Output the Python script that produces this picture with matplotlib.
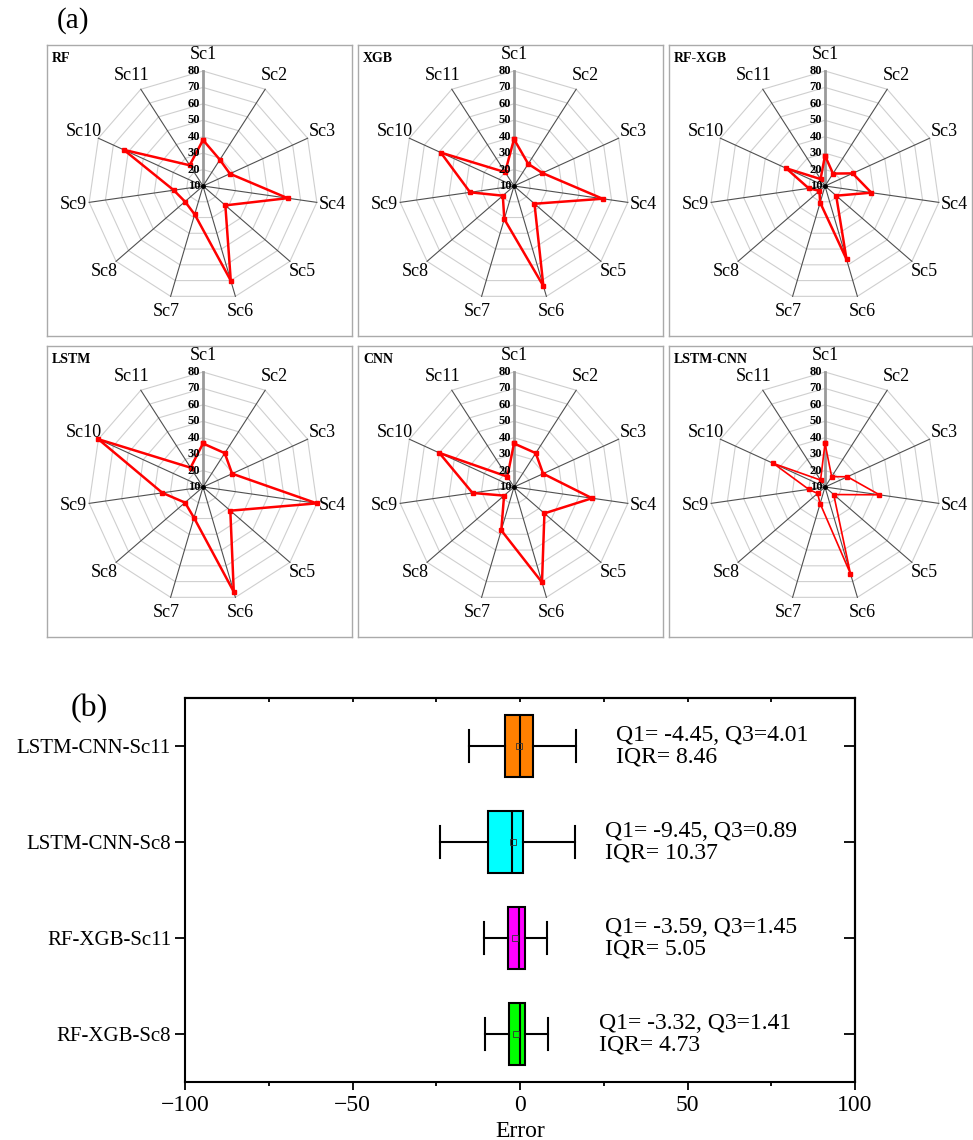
import numpy as np
import matplotlib
matplotlib.use('Agg')
import matplotlib.pyplot as plt
from matplotlib.transforms import offset_copy

plt.rcParams['font.family'] = ['Liberation Serif', 'DejaVu Serif']

W, H = 973, 1140

# ---- data: radar panels (a) ----
scenarios = ['Sc1', 'Sc2', 'Sc3', 'Sc4', 'Sc5', 'Sc6', 'Sc7', 'Sc8', 'Sc9', 'Sc10', 'Sc11']
levels = [10, 20, 30, 40, 50, 60, 70, 80]
models = ['RF', 'XGB', 'RF-XGB', 'LSTM', 'CNN', 'LSTM-CNN']
rf = [38, 29, 28, 62, 28, 70, 28, 24.5, 28, 63, 25]
xgb = [38.5, 26, 29, 64.5, 26.5, 73.5, 31, 19, 37, 59, 20]
rf_xgb = [28.5, 19, 28.5, 38.5, 19, 56.5, 20.5, 14.5, 20, 36, 15]
lstm = [36.5, 34.5, 29.5, 80, 32, 76.5, 29.5, 24.5, 35, 80, 24]
cnn = [36.5, 34.5, 29.5, 58, 34.5, 70.5, 37.5, 18, 35.5, 60, 17.5]
lstm_cnn = [36.5, 17.5, 25, 43.5, 17, 65, 20.5, 16, 20, 44.5, 15]
series = [rf, xgb, rf_xgb, lstm, cnn, lstm_cnn]

# ---- data: box plot (b), bottom to top ----
box_labels = ['RF-XGB-Sc8', 'RF-XGB-Sc11', 'LSTM-CNN-Sc8', 'LSTM-CNN-Sc11']
q1 = [-3.32, -3.59, -9.45, -4.45]
q3 = [1.41, 1.45, 0.89, 4.01]
iqr = [4.73, 5.05, 10.37, 8.46]
med = [0.0, -0.2, -2.4, 0.0]
mean = [-1.3, -1.5, -2.2, -0.2]
whislo = [-10.4, -10.7, -23.8, -15.2]
whishi = [8.5, 8.1, 16.4, 16.6]
box_colors = ['#00ff00', '#ff00ff', '#00ffff', '#ff8000']


def fx(px):
    return px / W


def fy(py):
    return 1 - py / H


fig = plt.figure(figsize=(W / 100, H / 100), dpi=100)

fig.text(fx(73), fy(21), '(a)', fontsize=21, ha='center', va='center')

theta = np.arange(len(scenarios)) * 2 * np.pi / len(scenarios)
theta_c = np.append(theta, theta[0])

panel_left = [47, 358, 669]
panel_top = [45, 346]
for k, (name, vals) in enumerate(zip(models, series)):
    r, c = divmod(k, 3)
    left, top = panel_left[c], panel_top[r]
    pw = 305 if c < 2 else 303
    ph = 291
    bg = fig.add_axes([fx(left), fy(top + ph), pw / W, ph / H])
    bg.set_xticks([])
    bg.set_yticks([])
    for s in bg.spines.values():
        s.set_color('#aaaaaa')
        s.set_linewidth(1.0)
    bg.text(5 / pw, 1 - 14 / ph, name, transform=bg.transAxes, fontsize=10,
            fontweight='bold', ha='left', va='center')

    cx, cy, R = left + 156, top + 141, 115
    ax = fig.add_axes([fx(cx - R), fy(cy + R), 2 * R / W, 2 * R / H], projection='polar')
    ax.set_theta_zero_location('N')
    ax.set_theta_direction(-1)
    ax.set_ylim(10, 80)
    ax.set_axis_off()

    for lv in levels[1:]:
        ax.plot(theta_c, [lv] * len(theta_c), color='#cfcfcf', lw=0.8, clip_on=False, zorder=1)
    for i, t in enumerate(theta):
        if i == 0:
            ax.plot([t, t], [10, 80], color='#9a9a9a', lw=2.0, clip_on=False, zorder=2)
        else:
            ax.plot([t, t], [10, 80], color='#505050', lw=0.8, clip_on=False, zorder=2)
        ax.text(t, 89.8, scenarios[i], fontsize=13, ha='center', va='center')
    ax.plot([0], [10], 'o', color='k', ms=2.5, zorder=5)

    trans = offset_copy(ax.transData, fig=fig, x=-2, y=0, units='points')
    for lv in levels:
        ax.text(0, lv, str(lv), transform=trans, fontsize=9, fontweight='bold',
                ha='right', va='center', zorder=6)

    lw = 1.2 if name == 'LSTM-CNN' else 1.8
    ax.plot(theta_c, list(vals) + [vals[0]], color='#ff0000', lw=lw, marker='s',
            ms=3.5, clip_on=False, zorder=4)

# ---- box plot ----
axb = fig.add_axes([fx(185), fy(1082), 670 / W, 384 / H])
stats = []
for lab, a, b, m, mn, lo, hi in zip(box_labels, q1, q3, med, mean, whislo, whishi):
    stats.append(dict(label=lab, q1=a, q3=b, med=m, mean=mn, whislo=lo, whishi=hi, fliers=[]))
positions = np.arange(1, len(box_labels) + 1)
bp = axb.bxp(stats, positions=positions, widths=0.65, orientation='horizontal',
             patch_artist=True, showmeans=True, capwidths=0.33,
             boxprops=dict(edgecolor='k', linewidth=1.5),
             medianprops=dict(color='k', linewidth=1.5),
             whiskerprops=dict(color='k', linewidth=1.5),
             capprops=dict(color='k', linewidth=1.5),
             meanprops=dict(marker='s', markerfacecolor='none', markeredgecolor='#333333',
                            markersize=4, markeredgewidth=0.6))
for patch, col in zip(bp['boxes'], box_colors):
    patch.set_facecolor(col)

text_x = [23.6, 25.5, 25.5, 28.7]
for p, a, b, q, tx in zip(positions, q1, q3, iqr, text_x):
    axb.text(tx, p + 0.11, f'Q1= {a:.2f}, Q3={b:.2f}', fontsize=17, ha='left', va='center')
    axb.text(tx, p - 0.115, f'IQR= {q:.2f}', fontsize=17, ha='left', va='center')

axb.set_xlim(-100, 100)
axb.set_ylim(0.5, 4.5)
major_x = [-100, -50, 0, 50, 100]
minor_x = [-75, -25, 25, 75]
axb.set_xticks(major_x)
axb.set_xticks(minor_x, minor=True)
axb.set_yticks(positions)
axb.set_yticklabels(box_labels)
axb.tick_params(axis='x', which='major', direction='out', length=5.5, width=1.3,
                labelsize=17, pad=4)
axb.tick_params(axis='x', which='minor', direction='out', length=3, width=1.3)
axb.tick_params(axis='y', direction='out', length=7, width=1.3, labelsize=15, pad=3)
for s in axb.spines.values():
    s.set_linewidth(1.5)

# inward ticks on top and right
top = axb.secondary_xaxis('top')
top.set_xticks(major_x)
top.set_xticks(minor_x, minor=True)
top.tick_params(which='both', direction='in', length=3, width=1.3, labeltop=False)
right = axb.secondary_yaxis('right')
right.set_yticks(positions)
right.tick_params(direction='in', length=8, width=1.3, labelright=False)
top.spines['top'].set_linewidth(1.5)
right.spines['right'].set_linewidth(1.5)

axb.set_xlabel('Error', fontsize=17)
axb.xaxis.set_label_coords(0.5, -(1121 - 1082) / 384)

fig.text(fx(89), fy(709), '(b)', fontsize=23, ha='center', va='center')

fig.savefig('out.png', dpi=100)
